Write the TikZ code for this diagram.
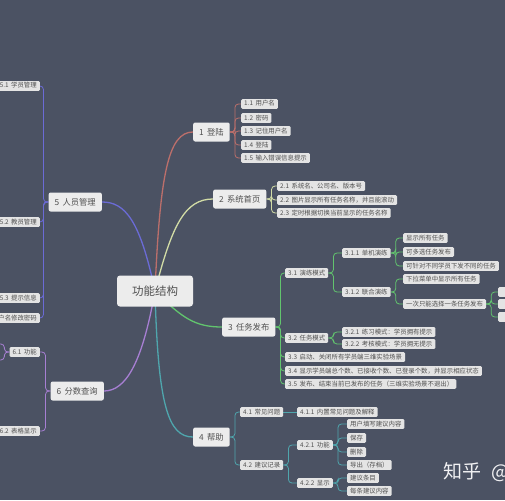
\documentclass[tikz,border=0pt]{standalone}
\usepackage{fontspec}
\newfontfamily\cjk{Noto Sans CJK SC}
\definecolor{bgc}{HTML}{4B5263}
\definecolor{leaffill}{HTML}{E4E4E4}
\definecolor{mainfill}{HTML}{ECECEC}
\definecolor{txt}{HTML}{505050}
\definecolor{cA}{HTML}{BC6F6B}
\definecolor{cB}{HTML}{D2DCA6}
\definecolor{cC}{HTML}{62C46E}
\definecolor{cD}{HTML}{4FA6AD}
\definecolor{cE}{HTML}{6B6BD6}
\definecolor{cF}{HTML}{A77FD3}
\newcommand\gapx{\hspace{0.4em}}
\pgfdeclarelayer{backlayer}
\pgfdeclarelayer{linelayer}
\pgfsetlayers{backlayer,linelayer,main}
\begin{document}
\begin{tikzpicture}[x=1pt,y=-1pt,
  leaf/.style={fill=leaffill, rounded corners=1.2pt, font=\cjk\fontsize{6.4}{7}\selectfont, text=txt, inner xsep=3pt, inner ysep=1.6pt, text height=5.3pt, text depth=1.3pt},
  lw/.style={leaf, anchor=west},
  le/.style={leaf, anchor=east},
  mainnode/.style={fill=mainfill, rounded corners=2pt, font=\cjk\fontsize{8.3}{9}\selectfont, text=txt, inner xsep=6pt, inner ysep=0pt, minimum height=19pt},
  mw/.style={mainnode, anchor=west},
  me/.style={mainnode, anchor=east},
  rootnode/.style={fill=mainfill, rounded corners=3pt, font=\cjk\fontsize{11.5}{13}\selectfont, text=txt, minimum width=76pt, minimum height=31pt},
  mainline/.style={line width=1.3pt},
  conn/.style={line width=0.8pt, rounded corners=3.5pt},
  brr/.style={to path={-- ++(5pt,0) |- (\tikztotarget)}},
  brl/.style={to path={-- ++(-5pt,0) |- (\tikztotarget)}}
]
\begin{pgfonlayer}{backlayer}
\fill[bgc] (0,0) rectangle (505,500);
\end{pgfonlayer}
\useasboundingbox (0,0) rectangle (505,500);

% root
\node[rootnode] (r) at (155,291) {功能结构};

% main nodes
\node[mw] (n1) at (193,132) {1\gapx 登陆};
\node[mw] (n2) at (213,199) {2\gapx 系统首页};
\node[mw] (n3) at (222,327) {3\gapx 任务发布};
\node[mw] (n4) at (193,437) {4\gapx 帮助};
\node[me] (n5) at (102,202) {5\gapx 人员管理};
\node[me] (n6) at (104,391) {6\gapx 分数查询};

% branch 1
\node[lw] (n11) at (241,104) {1.1\gapx 用户名};
\node[lw] (n12) at (241,118) {1.2\gapx 密码};
\node[lw] (n13) at (241,131) {1.3\gapx 记住用户名};
\node[lw] (n14) at (241,145) {1.4\gapx 登陆};
\node[lw] (n15) at (241,158) {1.5\gapx 输入错误信息提示};

% branch 2
\node[lw] (n21) at (277,186) {2.1\gapx 系统名、公司名、版本号};
\node[lw] (n22) at (277,200) {2.2\gapx 图片显示所有任务名称，并且能滚动};
\node[lw] (n23) at (277,213) {2.3\gapx 定时根据切换当前显示的任务名称};

% branch 3
\node[lw] (n31) at (285,273) {3.1\gapx 演练模式};
\node[lw] (n32) at (285,338) {3.2\gapx 任务模式};
\node[lw] (n33) at (285,357) {3.3\gapx 启动、关闭所有学员端三维实验场景};
\node[lw] (n34) at (285,371) {3.4\gapx 显示学员端总个数、已接收个数、已登录个数，并显示相应状态};
\node[lw] (n35) at (285,384) {3.5\gapx 发布、结束当前已发布的任务（三维实验场景不退出）};
\node[lw] (n311) at (342,253) {3.1.1\gapx 单机演练};
\node[lw] (n312) at (342,292) {3.1.2\gapx 联合演练};
\node[lw] (n3111) at (403,238) {显示所有任务};
\node[lw] (n3112) at (403,252) {可多选任务发布};
\node[lw] (n3113) at (403,266) {可针对不同学员下发不同的任务};
\node[lw] (n3121) at (403,279) {下拉菜单中显示所有任务};
\node[lw] (n3122) at (403,304) {一次只能选择一条任务发布};
\node[lw, minimum width=20pt] (x1) at (498,292) {};
\node[lw, minimum width=20pt] (x2) at (498,304) {};
\node[lw, minimum width=20pt] (x3) at (498,317) {};
\node[lw] (n321) at (342,332) {3.2.1\gapx 练习模式：学员拥有提示};
\node[lw] (n322) at (342,344) {3.2.2\gapx 考核模式：学员拥无提示};

% branch 4
\node[lw] (n41) at (240,412) {4.1\gapx 常见问题};
\node[lw] (n42) at (240,465) {4.2\gapx 建议记录};
\node[lw] (n411) at (297,412) {4.1.1\gapx 内置常见问题及解释};
\node[lw] (n421) at (297,445) {4.2.1\gapx 功能};
\node[lw] (n422) at (297,483) {4.2.2\gapx 显示};
\node[lw] (n4211) at (347,424) {用户填写建议内容};
\node[lw] (n4212) at (347,438) {保存};
\node[lw] (n4213) at (347,452) {删除};
\node[lw] (n4214) at (347,465) {导出（存档）};
\node[lw] (n4221) at (347,478) {建议条目};
\node[lw] (n4222) at (347,491) {每条建议内容};

% branch 5
\node[le] (n51) at (40,86) {5.1\gapx 学员管理};
\node[le] (n52) at (40,222) {5.2\gapx 教员管理};
\node[le] (n53) at (40,298) {5.3\gapx 提示信息};
\node[le] (n54) at (40,318) {5.4\gapx 用户名修改密码};

% branch 6
\node[le] (n61) at (40,352) {6.1\gapx 功能};
\node[le] (n62) at (40,431) {6.2\gapx 表格显示};
\coordinate (y61a) at (-12,344);
\coordinate (y61b) at (-12,360);

% watermark
\node[anchor=west, text=white!92!bgc, font=\cjk\fontsize{19}{21}\selectfont, inner sep=0pt] (wm) at (443,472) {知乎\hspace{0.55em}@};

\begin{pgfonlayer}{linelayer}
% main curves
\draw[cA,mainline] (r.center) .. controls (160,175) and (168,132) .. (n1.west);
\draw[cB,mainline] (r.center) .. controls (172,225) and (185,199) .. (n2.west);
\draw[cC,mainline] (r.center) .. controls (182,318) and (195,327) .. (n3.west);
\draw[cD,mainline] (r.center) .. controls (158,405) and (168,437) .. (n4.west);
\draw[cE,mainline] (r.center) .. controls (140,220) and (125,202) .. (n5.east);
\draw[cF,mainline] (r.center) .. controls (142,365) and (125,391) .. (n6.east);

% branch 1
\foreach \c in {n11,n12,n13,n14,n15} \draw[cA,conn] (n1.east) to[brr] (\c.west);
% branch 2
\foreach \c in {n21,n22,n23} \draw[cB,conn] (n2.east) to[brr] (\c.west);
% branch 3
\foreach \c in {n31,n32,n33,n34,n35} \draw[cC,conn] (n3.east) to[brr] (\c.west);
\foreach \c in {n311,n312} \draw[cC,conn] (n31.east) to[brr] (\c.west);
\foreach \c in {n3111,n3112,n3113} \draw[cC,conn] (n311.east) to[brr] (\c.west);
\foreach \c in {n3121,n3122} \draw[cC,conn] (n312.east) to[brr] (\c.west);
\foreach \c in {x1,x2,x3} \draw[cC,conn] (n3122.east) to[brr] (\c.west);
\foreach \c in {n321,n322} \draw[cC,conn] (n32.east) to[brr] (\c.west);
% branch 4
\foreach \c in {n41,n42} \draw[cD,conn] (n4.east) to[brr] (\c.west);
\draw[cD,conn] (n41.east) -- (n411.west);
\foreach \c in {n421,n422} \draw[cD,conn] (n42.east) to[brr] (\c.west);
\foreach \c in {n4211,n4212,n4213,n4214} \draw[cD,conn] (n421.east) to[brr] (\c.west);
\foreach \c in {n4221,n4222} \draw[cD,conn] (n422.east) to[brr] (\c.west);
% branch 5
\foreach \c in {n51,n52,n53,n54} \draw[cE,conn] (n5.west) to[brl] (\c.east);
% branch 6
\foreach \c in {n61,n62} \draw[cF,conn] (n6.west) to[brl] (\c.east);
\foreach \c in {y61a,y61b} \draw[cF,conn] (n61.west) to[brl] (\c);
\end{pgfonlayer}
\end{tikzpicture}
\end{document}
